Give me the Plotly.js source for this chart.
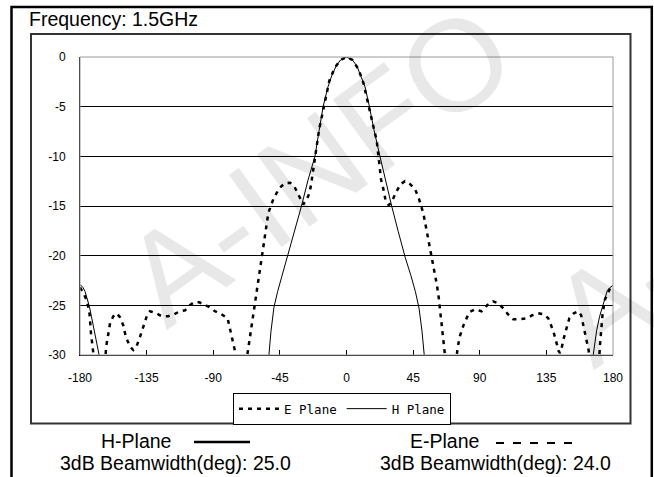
<!DOCTYPE html>
<html>
<head>
<meta charset="utf-8">
<script src="https://cdn.plot.ly/plotly-3.0.1.min.js"></script>
<style>
html,body{margin:0;padding:0;background:#fff;}
#chart{width:654px;height:477px;}
</style>
</head>
<body>
<div id="chart"></div>
<script>
// ---- data ----
const xTickVals = [-180, -135, -90, -45, 0, 45, 90, 135, 180];
const yTickVals = [0, -5, -10, -15, -20, -25, -30];
const seriesNames = ["E Plane", "H Plane"];

const eAngles = [-180,-177.5,-175.5,-173.7,-172.6,-171.4,-170.2,-166.5,-163,-162.4,-161,-159.7,-157.5,-155.2,-153,-150.8,-149,-146,-144,-142,-139.5,-136.8,-134.5,-132.7,-128.5,-124.8,-120.5,-116.5,-112.5,-109,-106,-103,-99.5,-96.2,-92.5,-88.8,-84.5,-80.3,-78.5,-76.7,-74.6,-73.5,-70.5,-67.8,-67,-64.7,-62.5,-60,-57.8,-55,-53.9,-52.8,-49.4,-45.4,-41.5,-38,-35,-32.5,-29.2,-25.8,-24.2,-23.1,-22,-20.6,-18.4,-16.8,-14,-11.6,-8,-4,0,4,8,11.3,14,16.5,18.8,20.4,21.7,23.3,24.9,26.5,28.5,30.1,33.9,36.5,39.5,43,46.3,49,52,54.6,57.5,59.8,61,62.2,63.2,63.6,65.4,66.5,67.5,71,74,75,76.6,79.3,82.9,87,91.2,95,99,102.5,105.9,109,112.6,117,121.7,125.5,129.5,133,136.3,139.7,141.9,143.2,144.2,145.2,146.4,148.5,150.5,153.5,156.6,158.5,160,162.2,163.5,164.5,167,170,170.8,171.2,172,173,174.6,176.5,178,180];
const eValues = [-23.2,-23.8,-24.5,-25.6,-27.8,-29.2,-30.8,null,-30.8,-29.2,-28,-26.8,-26.1,-25.8,-26.2,-27,-28.2,-29.2,-29.5,-29.2,-28.2,-26.9,-25.9,-25.6,-25.8,-26.1,-26.1,-25.9,-25.6,-25.5,-25,-24.7,-24.7,-24.9,-25.2,-25.6,-25.9,-26.3,-27.4,-28.7,-30,-30.8,null,-30.8,-30,-27.5,-25,-22.6,-20.4,-17.9,-16.6,-15.7,-14.3,-13.2,-12.7,-12.66,-13.1,-13.8,-14.85,-14,-13.1,-12,-10.8,-9.6,-7.2,-6.1,-4,-2.4,-1.1,-0.3,0,-0.3,-1.2,-2.55,-4.3,-6.1,-7.4,-8.4,-10.2,-12.3,-13.3,-14.5,-14.9,-14.7,-13.5,-12.8,-12.5,-12.8,-13.3,-14.3,-15.8,-17.9,-19.9,-21.7,-22.9,-24.1,-25.5,-26.5,-28.8,-30,-30.8,null,-30.8,-29.3,-28.1,-26.9,-25.7,-25.4,-25.6,-25,-24.6,-24.8,-25.3,-25.9,-26.4,-26.4,-26.3,-26,-25.8,-25.9,-26.3,-27.6,-28.8,-29.6,-29.8,-29.4,-28.5,-27.3,-26.3,-25.8,-25.6,-26,-27,-28.3,-29.5,-30.8,null,-30.8,-30,-29,-27.5,-25.8,-24.4,-23.7,-23.3,-23];

const hAngles = [-180,-178,-176.6,-175,-173.7,-172.3,-171,-169.8,-168.7,-167,-165.5,-110,-54,-52.4,-51,-49,-46.5,-43.5,-40,-35,-30.4,-26,-21.3,-18.5,-15.8,-12.5,-10,-7,-4,0,4,7,10.3,12.5,15.2,18.5,22.6,26.5,30.5,35,39.7,43.5,46.5,49,51,52.5,54,110,165.5,166.5,168,169,171,173.5,176.2,178,180];
const hValues = [-22.9,-23.2,-23.6,-24.3,-25.1,-26.1,-27.1,-28,-28.8,-30,-31.2,null,-31.5,-30,-27.6,-25.2,-23.6,-22,-20.2,-17.6,-15,-12.4,-10,-7.4,-5,-3,-1.9,-0.9,-0.3,0,-0.3,-0.9,-2.1,-3,-4.8,-7.3,-10,-12.6,-15,-17.6,-20.2,-22,-23.6,-25.3,-27.6,-30,-31.5,null,-31.2,-30,-28.6,-27.5,-26.1,-24.8,-23.5,-23.2,-23];

const titleText = "Frequency: 1.5GHz";
const hLabel = "H-Plane";
const eLabel = "E-Plane";
const hBeam = "3dB Beamwidth(deg): 25.0";
const eBeam = "3dB Beamwidth(deg): 24.0";
const watermark = "A-INFO";

// ---- layout helpers (pixel -> paper) ----
const W = 654, H = 477;
const M = {l: 80, r: 41, t: 57, b: 122};
const PW = W - M.l - M.r, PH = H - M.t - M.b;
const px = x => (x - M.l) / PW;
const py = y => (H - M.b - y) / PH;
const FONT = "Arial, 'Liberation Sans', sans-serif";

const traces = [
  {x: eAngles, y: eValues, name: seriesNames[0], type: 'scatter', mode: 'lines',
   line: {color: '#000', width: 2.5, dash: '4px,5px'}, connectgaps: false},
  {x: hAngles, y: hValues, name: seriesNames[1], type: 'scatter', mode: 'lines',
   line: {color: '#000', width: 1}, connectgaps: false}
];

function rect(x0, y0, x1, y1, color, width, layer) {
  return {type: 'rect', xref: 'paper', yref: 'paper', x0: px(x0), x1: px(x1), y0: py(y0), y1: py(y1),
          line: {color: color, width: width}, fillcolor: 'rgba(0,0,0,0)', layer: layer || 'above'};
}
function hline(x0, x1, y, color, width, dash) {
  return {type: 'line', xref: 'paper', yref: 'paper', x0: px(x0), x1: px(x1), y0: py(y), y1: py(y),
          line: {color: color, width: width, dash: dash || 'solid'}};
}
function ann(text, x, y, size, xanchor, extra) {
  return Object.assign({text: text, xref: 'paper', yref: 'paper', x: px(x), y: py(y),
          xanchor: xanchor || 'center', yanchor: 'middle', showarrow: false,
          font: {family: FONT, size: size, color: '#000'}}, extra || {});
}
const wmFont = {family: FONT, size: 130, color: 'rgba(0,0,0,0.09)'};

const layout = {
  width: W, height: H,
  margin: M,
  paper_bgcolor: '#fff', plot_bgcolor: '#fff',
  showlegend: true,
  legend: {orientation: 'h', x: px(342), xanchor: 'center', y: py(393), yanchor: 'top',
           bordercolor: '#000', borderwidth: 1, bgcolor: '#fff',
           font: {family: "'DejaVu Sans Mono', monospace", size: 12.5, color: '#000'},
           itemwidth: 40, tracegroupgap: 0, itemclick: false},
  xaxis: {range: [-180, 180], tickvals: xTickVals, ticktext: xTickVals.map(String),
          ticks: 'inside', ticklen: 5, tickcolor: '#000', tickwidth: 1,
          showline: true, linecolor: '#000', linewidth: 1, showgrid: false, zeroline: false,
          tickfont: {family: FONT, size: 12, color: '#000'}, ticklabelstandoff: 12, fixedrange: true},
  yaxis: {range: [-30, 0], tickvals: yTickVals, ticktext: yTickVals.map(String),
          ticks: '', showline: true, linecolor: '#000', linewidth: 1,
          showgrid: true, gridcolor: '#000', gridwidth: 1, zeroline: false,
          tickfont: {family: FONT, size: 12, color: '#000'}, ticklabelstandoff: 11, fixedrange: true},
  shapes: [
    rect(11.5, 7, 651.8, 500, '#000', 2.5),
    rect(31, 34, 630.5, 423.5, '#333', 2),
    rect(80, 57, 613, 355, '#9a9a9a', 1),
    hline(194, 250, 442, '#000', 2.5),
    hline(496, 572, 443, '#000', 2, '8px,9px')
  ],
  annotations: [
    ann(watermark, 318, 165, 0, 'center', {font: wmFont, textangle: -36}),
    ann(watermark, 745, 205, 0, 'center', {font: wmFont, textangle: -36}),
    ann(titleText, 27, 19, 19.5, 'left'),
    ann(hLabel, 136, 441, 19.5),
    ann(eLabel, 444, 441, 19.5),
    ann(hBeam, 175, 463, 19.5),
    ann(eBeam, 495, 463, 19.5)
  ]
};

Plotly.newPlot('chart', traces, layout, {displayModeBar: false, staticPlot: true});
</script>
</body>
</html>
